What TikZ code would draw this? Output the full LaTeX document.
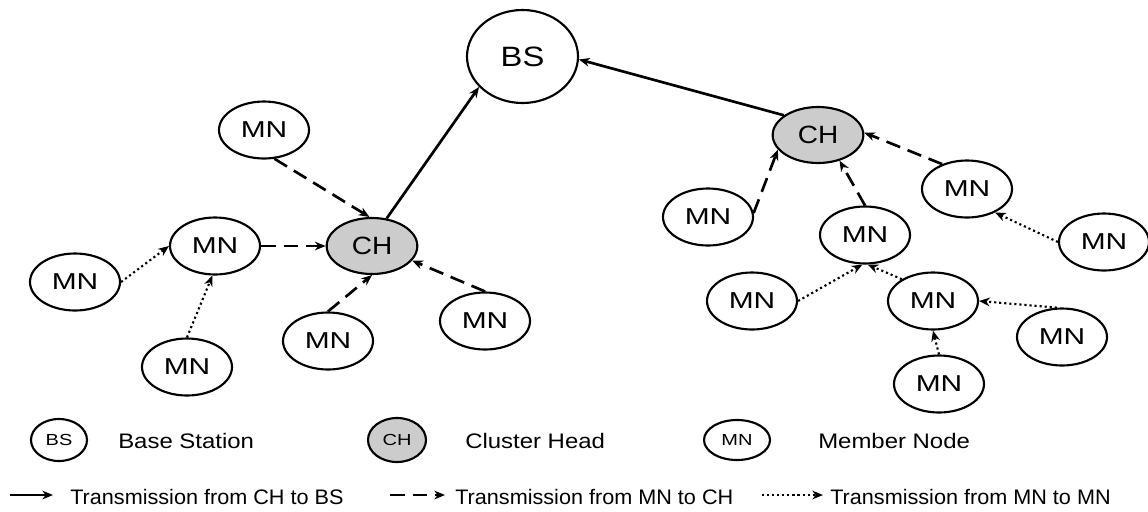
\documentclass[tikz,border=0pt]{standalone}
\usepackage{fontspec}
\setmainfont{Liberation Sans}
\newfontfamily\mnfont[FakeStretch=1.3]{Liberation Sans}
\newfontfamily\chfont[FakeStretch=1.12]{Liberation Sans}
\newfontfamily\bsfont[FakeStretch=1.17]{Liberation Sans}
\newfontfamily\keyfont[FakeStretch=1.25]{Liberation Sans}
\newfontfamily\labfont[FakeStretch=1.14]{Liberation Sans}
\newfontfamily\capfont[FakeStretch=1.03]{Liberation Sans}
\usetikzlibrary{arrows.meta,shapes.geometric}

\tikzset{
  base/.style={ellipse, draw, line width=1.6pt, inner sep=0pt},
  mn/.style={base, minimum width=67.5pt, minimum height=42.75pt,
    font=\mnfont\fontsize{17.25}{20}\selectfont},
  ch/.style={base, fill=black!20, minimum width=68pt, minimum height=42pt,
    font=\chfont\fontsize{18.75}{22}\selectfont},
  bs/.style={base, minimum width=83.25pt, minimum height=69.75pt,
    font=\bsfont\fontsize{21}{25}\selectfont},
  keybs/.style={base, minimum width=42pt, minimum height=31.5pt,
    font=\keyfont\fontsize{12}{14}\selectfont},
  keych/.style={keybs, fill=black!20, minimum width=43.5pt, minimum height=33pt},
  keymn/.style={keybs, minimum width=49.5pt, minimum height=30pt},
  label/.style={anchor=west, inner sep=0pt, font=\labfont\fontsize{15.75}{18}\selectfont},
  caption/.style={anchor=west, inner sep=0pt, font=\capfont\fontsize{15.75}{18}\selectfont},
  tip/.style={-{Stealth[length=8pt,width=6.5pt,inset=2.5pt]}},
  solidlink/.style={tip, line width=2pt},
  dashlink/.style={tip, line width=2pt, dash pattern=on 11pt off 6pt},
  dotlink/.style={tip, line width=1.6pt, dash pattern=on 1.6pt off 2.2pt},
}

\begin{document}
\begin{tikzpicture}[x=0.75pt, y=-0.75pt]
  \useasboundingbox (0,0) rectangle (1148,511);

  % base station
  \node[bs] (bs) at (522.5,56.5) {BS};

  % left cluster
  \node[ch] (ch1) at (372,246) {CH};
  \node[mn] (a1) at (264,130) {MN};
  \node[mn] (a2) at (215,246) {MN};
  \node[mn] (a3) at (75,282) {MN};
  \node[mn] (a4) at (187,367) {MN};
  \node[mn] (a5) at (328,341) {MN};
  \node[mn] (a6) at (485,321) {MN};

  % right cluster
  \node[ch] (ch2) at (818,135) {CH};
  \node[mn] (b1) at (708,217) {MN};
  \node[mn] (b2) at (865,235) {MN};
  \node[mn] (b3) at (967,189) {MN};
  \node[mn] (b4) at (1104,242) {MN};
  \node[mn] (b5) at (752,301) {MN};
  \node[mn] (b6) at (933,301) {MN};
  \node[mn] (b7) at (1062,337) {MN};
  \node[mn] (b8) at (939,384) {MN};

  % cluster heads to base station
  \draw[solidlink] (ch1.62) -- (bs.215);
  \draw[solidlink] (ch2.150) -- (bs.-3);

  % left cluster links
  \draw[dashlink] (a1.-70) -- (ch1.95);
  \draw[dashlink] (a2.east) -- (ch1.west);
  \draw[dotlink] (a3.east) -- (a2.west);
  \draw[dotlink] (a4.north) -- (a2.-95);
  \draw[dashlink] (a5.north) -- (ch1.south);
  \draw[dashlink] (a6.north) -- (ch1.-20);

  % right cluster links
  \draw[dashlink] (b1.5) -- (ch2.200);
  \draw[dashlink] (b2.north) -- (ch2.-50);
  \draw[dashlink] (b3.135) -- (ch2.3);
  \draw[dotlink] (b4.west) -- (b3.-40);
  \draw[dotlink] (b5.east) -- (b2.-95);
  \draw[dotlink] (b6.145) -- (b2.-85);
  \draw[dotlink] (b7.100) -- (b6.east);
  \draw[dotlink] (b8.north) -- (b6.south);

  % legend: node kinds
  \node[keybs] (kbs) at (59,440) {BS};
  \node[label] (lbs) at (118,441) {Base Station};
  \node[keych] (kch) at (397,440) {CH};
  \node[label] (lch) at (465,441) {Cluster Head};
  \node[keymn] (kmn) at (737,440) {MN};
  \node[label] (lmn) at (818,441) {Member Node};

  % legend: link kinds
  \coordinate (s1) at (10,495);
  \coordinate (e1) at (53,495);
  \draw[solidlink] (s1) -- (e1);
  \node[caption] (t1) at (70,497) {Transmission from CH to BS};
  \coordinate (s2) at (390,495);
  \coordinate (e2) at (445,495);
  \draw[dashlink] (s2) -- (e2);
  \node[caption] (t2) at (455,497) {Transmission from MN to CH};
  \coordinate (s3) at (762,495);
  \coordinate (e3) at (823,495);
  \draw[dotlink] (s3) -- (e3);
  \node[caption] (t3) at (830,497) {Transmission from MN to MN};
\end{tikzpicture}
\end{document}
